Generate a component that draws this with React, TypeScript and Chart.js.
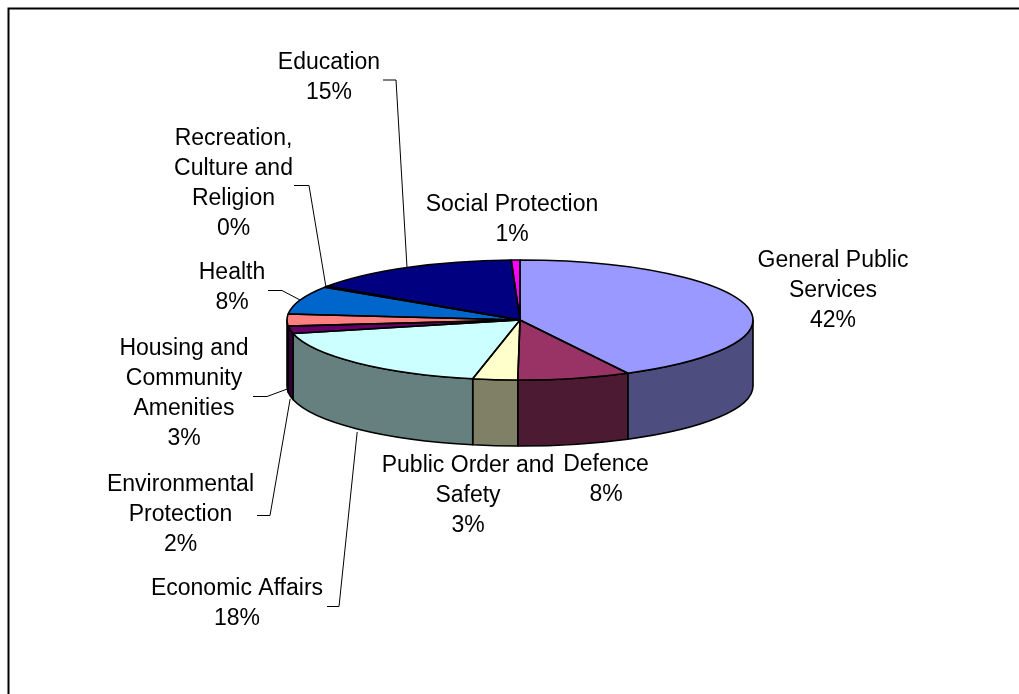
import React, { useEffect, useRef } from "react";
import { Chart, registerables } from "chart.js";

Chart.register(...registerables);

// ---- data ----
const categories = [
  "General Public Services",
  "Defence",
  "Public Order and Safety",
  "Economic Affairs",
  "Environmental Protection",
  "Housing and Community Amenities",
  "Health",
  "Recreation, Culture and Religion",
  "Education",
  "Social Protection",
];
const shares = [42.3, 7.8, 3.1, 18.1, 2.0, 3.2, 7.6, 0.3, 14.9, 0.6];

// ---- styles ----
const sliceColors = [
  "#9999FF",
  "#993366",
  "#FFFFCC",
  "#CCFFFF",
  "#660066",
  "#FF8080",
  "#0066CC",
  "#CCCCFF",
  "#000080",
  "#FF00FF",
];

// label placement (centre x, first line y, wrap width, leader elbow [x0, x1, y])
const labelLayout: { x: number; y: number; w: number; leader?: number[] }[] = [
  { x: 833, y: 261, w: 165 },
  { x: 606, y: 465, w: 120 },
  { x: 468, y: 466, w: 185 },
  { x: 237, y: 589, w: 185, leader: [327, 339, 606] },
  { x: 180.5, y: 485, w: 160, leader: [257, 270, 515] },
  { x: 184, y: 349, w: 140, leader: [253, 267, 396] },
  { x: 232, y: 273, w: 120, leader: [268, 282, 290] },
  { x: 233.5, y: 139, w: 130, leader: [294, 309, 185] },
  { x: 329, y: 62.5, w: 120, leader: [383, 396, 79.5] },
  { x: 512, y: 205, w: 185 },
];

const SQUASH = 60 / 233;
const DEPTH = 66;
const LINE_H = 29.8;
const FONT = '23px "Liberation Sans", Arial, sans-serif';

function shade(hex: string) {
  const n = parseInt(hex.slice(1), 16);
  const r = (n >> 16) & 255;
  const g = (n >> 8) & 255;
  const b = n & 255;
  return `rgb(${Math.round(r / 2)},${Math.round(g / 2)},${Math.round(b / 2)})`;
}

function wrap(ctx: CanvasRenderingContext2D, text: string, maxW: number) {
  const words = text.split(" ");
  const lines: string[] = [];
  let cur = "";
  for (const w of words) {
    const t = cur ? cur + " " + w : w;
    if (cur && ctx.measureText(t).width > maxW) {
      lines.push(cur);
      cur = w;
    } else cur = t;
  }
  if (cur) lines.push(cur);
  return lines;
}

const pie3d = {
  id: "pie3d",
  beforeDraw(chart: any) {
    const ctx = chart.ctx as CanvasRenderingContext2D;
    ctx.save();
    ctx.fillStyle = "#fff";
    ctx.fillRect(0, 0, chart.width, chart.height);
    ctx.strokeStyle = "#000";
    ctx.lineWidth = 2;
    ctx.strokeRect(8.5, 8.5, 3000, 3000);
    ctx.restore();
  },
  beforeDatasetsDraw(chart: any) {
    const ctx = chart.ctx as CanvasRenderingContext2D;
    const arcs = chart.getDatasetMeta(0).data;
    const { x: cx, y: cy, outerRadius: rx } = arcs[0];
    const ry = rx * SQUASH;
    ctx.save();
    ctx.lineWidth = 1.6;
    ctx.strokeStyle = "#000";
    ctx.lineJoin = "round";
    arcs.forEach((arc: any, i: number) => {
      const s = Math.max(arc.startAngle, 0);
      const e = Math.min(arc.endAngle, Math.PI);
      if (e <= s) return;
      ctx.beginPath();
      ctx.ellipse(cx, cy, rx, ry, 0, s, e);
      ctx.lineTo(cx + rx * Math.cos(e), cy + ry * Math.sin(e) + DEPTH);
      ctx.ellipse(cx, cy + DEPTH, rx, ry, 0, e, s, true);
      ctx.closePath();
      ctx.fillStyle = shade(sliceColors[i]);
      ctx.fill();
      ctx.stroke();
    });
    ctx.restore();
    ctx.save();
    ctx.translate(0, cy);
    ctx.scale(1, SQUASH);
    ctx.translate(0, -cy);
  },
  afterDatasetsDraw(chart: any) {
    const ctx = chart.ctx as CanvasRenderingContext2D;
    ctx.restore();
    const arcs = chart.getDatasetMeta(0).data;
    const { x: cx, y: cy, outerRadius: rx } = arcs[0];
    const ry = rx * SQUASH;
    ctx.save();
    ctx.lineWidth = 1.6;
    ctx.strokeStyle = "#000";
    ctx.lineJoin = "round";
    arcs.forEach((arc: any) => {
      const s = arc.startAngle;
      const e = arc.endAngle;
      ctx.beginPath();
      ctx.moveTo(cx, cy);
      ctx.lineTo(cx + rx * Math.cos(s), cy + ry * Math.sin(s));
      ctx.ellipse(cx, cy, rx, ry, 0, s, e);
      ctx.closePath();
      ctx.stroke();
    });
    ctx.restore();
  },
  afterDraw(chart: any) {
    const ctx = chart.ctx as CanvasRenderingContext2D;
    const arcs = chart.getDatasetMeta(0).data;
    const { x: cx, y: cy, outerRadius: rx } = arcs[0];
    const ry = rx * SQUASH;
    const total = shares.reduce((a, b) => a + b, 0);
    ctx.save();
    ctx.font = FONT;
    ctx.fillStyle = "#000";
    ctx.textAlign = "center";
    ctx.textBaseline = "middle";
    categories.forEach((name, i) => {
      const L = labelLayout[i];
      const lines = wrap(ctx, name, L.w);
      lines.push(Math.round((shares[i] / total) * 100) + "%");
      lines.forEach((ln, j) => ctx.fillText(ln, L.x, L.y + j * LINE_H));
      if (L.leader) {
        const arc = arcs[i];
        const m = (arc.startAngle + arc.endAngle) / 2;
        const px = cx + rx * Math.cos(m);
        let py = cy + ry * Math.sin(m);
        if (Math.sin(m) > -0.1) py += DEPTH + 3;
        ctx.beginPath();
        ctx.lineWidth = 1;
        ctx.strokeStyle = "#000";
        ctx.moveTo(L.leader[0], L.leader[2] + 0.5);
        ctx.lineTo(L.leader[1], L.leader[2] + 0.5);
        ctx.lineTo(px, py);
        ctx.stroke();
      }
    });
    ctx.restore();
  },
};

export default function App() {
  const ref = useRef<HTMLCanvasElement>(null);
  useEffect(() => {
    const chart = new Chart(ref.current as HTMLCanvasElement, {
      type: "pie",
      data: {
        labels: categories,
        datasets: [
          {
            data: shares,
            backgroundColor: sliceColors,
            borderWidth: 0,
            radius: 233,
            clip: false,
          } as any,
        ],
      },
      options: {
        responsive: false,
        animation: false,
        events: [],
        layout: { padding: { left: 21, right: 0, top: 0, bottom: 54 } },
        plugins: { legend: { display: false }, tooltip: { enabled: false } },
      },
      plugins: [pie3d as any],
    });
    return () => chart.destroy();
  }, []);
  return (
    <div style={{ position: "fixed", left: 0, top: 0, width: 1019, height: 694, background: "#fff" }}>
      <canvas ref={ref} width={1019} height={694} style={{ display: "block" }} />
    </div>
  );
}
